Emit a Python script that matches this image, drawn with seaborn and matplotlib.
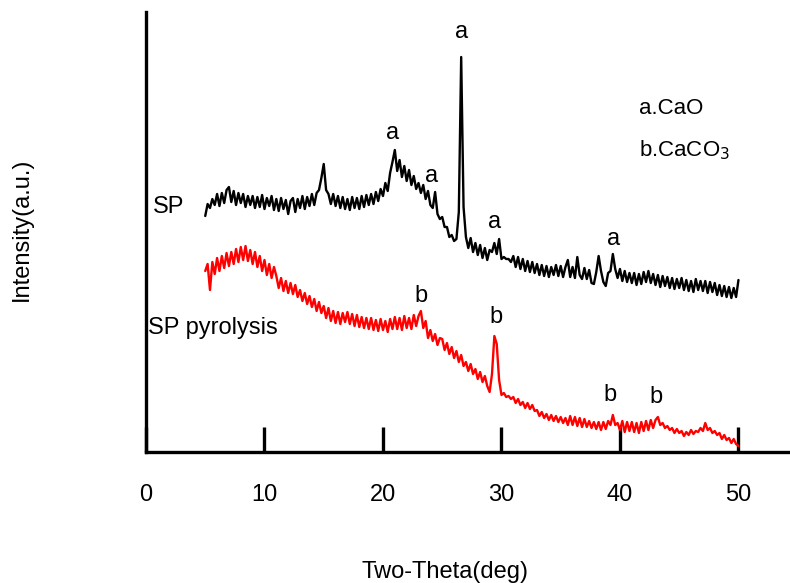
import numpy as np
import matplotlib
matplotlib.use("Agg")
import matplotlib.pyplot as plt
import seaborn as sns

sns.set_style("white")
plt.rcParams['font.family'] = ['Liberation Sans', 'DejaVu Sans']
plt.rcParams['text.color'] = 'black'
plt.rcParams['axes.labelcolor'] = 'black'
plt.rcParams['xtick.color'] = 'black'

# 2-theta sampling (deg), 0.2 deg step from 5 to 50
theta = np.round(np.arange(5.0, 50.001, 0.2), 1)

# SP (black) intensity, arbitrary units
sp = [
    236, 248, 244, 253, 247, 258, 246, 259, 249, 262,   # 5.0 - 6.8
    265, 250, 261, 247, 259, 249, 258, 245, 256, 247,   # 7.0 - 8.8
    256, 244, 255, 245, 257, 243, 254, 246, 256, 242,   # 9.0 - 10.8
    253, 241, 254, 243, 252, 238, 251, 254, 240, 253,   # 11.0 - 12.8
    244, 256, 243, 255, 246, 258, 247, 259, 262, 274,   # 13.0 - 14.8
    288, 262, 258, 248, 258, 246, 256, 244, 255, 243,   # 15.0 - 16.8
    253, 242, 255, 244, 254, 243, 256, 245, 257, 247,   # 17.0 - 18.8
    258, 248, 260, 251, 263, 256, 269, 261, 279, 290,   # 19.0 - 20.8
    302, 281, 292, 275, 286, 271, 282, 267, 276, 263,   # 21.0 - 22.8
    269, 259, 267, 253, 261, 247, 244, 260, 238, 233,   # 23.0 - 24.8
    235, 225, 225, 215, 217, 211, 213, 240, 395, 245,   # 25.0 - 26.8
    215, 204, 214, 200, 209, 197, 207, 194, 204, 192,   # 27.0 - 28.8
    202, 200, 209, 198, 213, 193, 195, 193, 193, 190,   # 29.0 - 30.8
    196, 185, 195, 183, 193, 181, 191, 180, 190, 179,   # 31.0 - 32.8
    188, 177, 187, 176, 186, 175, 185, 177, 187, 176,   # 33.0 - 34.8
    186, 175, 185, 192, 175, 185, 174, 195, 177, 173,   # 35.0 - 36.8
    184, 173, 182, 169, 168, 180, 196, 181, 170, 166,   # 37.0 - 38.8
    179, 181, 198, 183, 174, 183, 171, 181, 170, 179,   # 39.0 - 40.8
    169, 179, 167, 178, 168, 180, 170, 181, 169, 178,   # 41.0 - 42.8
    167, 177, 165, 176, 166, 175, 164, 174, 163, 173,   # 43.0 - 44.8
    164, 174, 162, 172, 161, 171, 160, 173, 162, 171,   # 45.0 - 46.8
    161, 171, 159, 170, 160, 169, 157, 167, 156, 166,   # 47.0 - 48.8
    155, 165, 154, 164, 155, 172,                       # 49.0 - 50.0
]

# SP pyrolysis (red) intensity
sp_pyro = [
    181, 188, 162, 190, 178, 194, 181, 196, 184, 199,   # 5.0 - 6.8
    186, 200, 188, 203, 190, 205, 192, 206, 191, 202,   # 7.0 - 8.8
    188, 200, 185, 196, 181, 192, 177, 188, 174, 185,   # 9.0 - 10.8
    176, 164, 174, 161, 171, 159, 169, 158, 167, 155,   # 11.0 - 12.8
    162, 151, 159, 148, 156, 145, 153, 141, 150, 139,   # 13.0 - 14.8
    146, 134, 144, 131, 141, 129, 140, 128, 139, 130,   # 15.0 - 16.8
    140, 128, 138, 126, 137, 125, 135, 124, 134, 123,   # 17.0 - 18.8
    134, 122, 132, 121, 133, 122, 131, 120, 133, 123,   # 19.0 - 20.8
    135, 123, 134, 122, 136, 124, 134, 123, 137, 126,   # 21.0 - 22.8
    136, 141, 124, 131, 114, 122, 111, 118, 107, 114,   # 23.0 - 24.8
    113, 102, 109, 98, 105, 94, 101, 90, 97, 86,        # 25.0 - 26.8
    90, 81, 88, 78, 83, 73, 80, 70, 76, 66,             # 27.0 - 28.8
    60, 78, 116, 108, 72, 57, 59, 55, 56, 53,           # 29.0 - 30.8
    55, 49, 53, 47, 50, 44, 49, 43, 47, 41,             # 31.0 - 32.8
    42, 36, 40, 34, 38, 32, 37, 31, 36, 30,             # 33.0 - 34.8
    35, 29, 34, 27, 36, 27, 35, 26, 34, 25,             # 35.0 - 36.8
    33, 25, 31, 24, 30, 23, 30, 22, 30, 23,             # 37.0 - 38.8
    31, 27, 37, 27, 29, 22, 31, 20, 30, 21,             # 39.0 - 40.8
    30, 20, 29, 19, 30, 21, 31, 22, 32, 24,             # 41.0 - 42.8
    32, 35, 27, 29, 24, 26, 22, 24, 19, 23,             # 43.0 - 44.8
    19, 21, 16, 20, 17, 22, 18, 21, 20, 24,             # 45.0 - 46.8
    21, 29, 22, 24, 19, 21, 17, 19, 13, 17,             # 47.0 - 48.8
    12, 14, 9, 13, 8, 6,                                # 49.0 - 50.0
]

# phase markers: (2theta, height, letter)
peak_labels = [
    (26.6, 420, 'a'), (20.8, 319, 'a'), (24.1, 276, 'a'),
    (29.4, 230, 'a'), (39.5, 213, 'a'),
    (23.2, 156, 'b'), (29.5, 135, 'b'), (39.2, 57, 'b'), (43.0, 55, 'b'),
]

fig = plt.figure(figsize=(7.9, 5.83), dpi=100)
ax = fig.add_axes([0.1848, 0.2247, 0.8152, 0.7547])

sns.lineplot(x=theta, y=sp, color='black', lw=1.7, ax=ax)
sns.lineplot(x=theta, y=sp_pyro, color='red', lw=1.7, ax=ax)

for x, y, s in peak_labels:
    ax.text(x, y, s, fontsize=17, ha='center', va='center')

ax.text(0.55, 245, 'SP', fontsize=17, ha='left', va='center')
ax.text(0.15, 124, 'SP pyrolysis', fontsize=17, ha='left', va='center')
ax.text(41.6, 344, 'a.CaO', fontsize=16, ha='left', va='center')
ax.text(41.6, 302, r'b.CaCO$_3$', fontsize=16, ha='left', va='center')

ax.set_xlim(0, 54.35)
ax.set_ylim(0, 440)
ax.set_xticks([0, 10, 20, 30, 40, 50])
ax.set_yticks([])
ax.tick_params(axis='x', bottom=True, direction='in', length=18, width=2.4,
               pad=23, labelsize=17, color='black', labelcolor='black')
for side in ['top', 'right']:
    ax.spines[side].set_visible(False)
for side in ['left', 'bottom']:
    ax.spines[side].set_linewidth(2.4)
    ax.spines[side].set_color('black')

ax.set_xlabel('Two-Theta(deg)', fontsize=17)
ax.set_ylabel('Intensity(a.u.)', fontsize=17)
ax.xaxis.set_label_coords(0.464, -0.247)
ax.yaxis.set_label_coords(-0.175, 0.505)

fig.savefig('out.png', dpi=100)
